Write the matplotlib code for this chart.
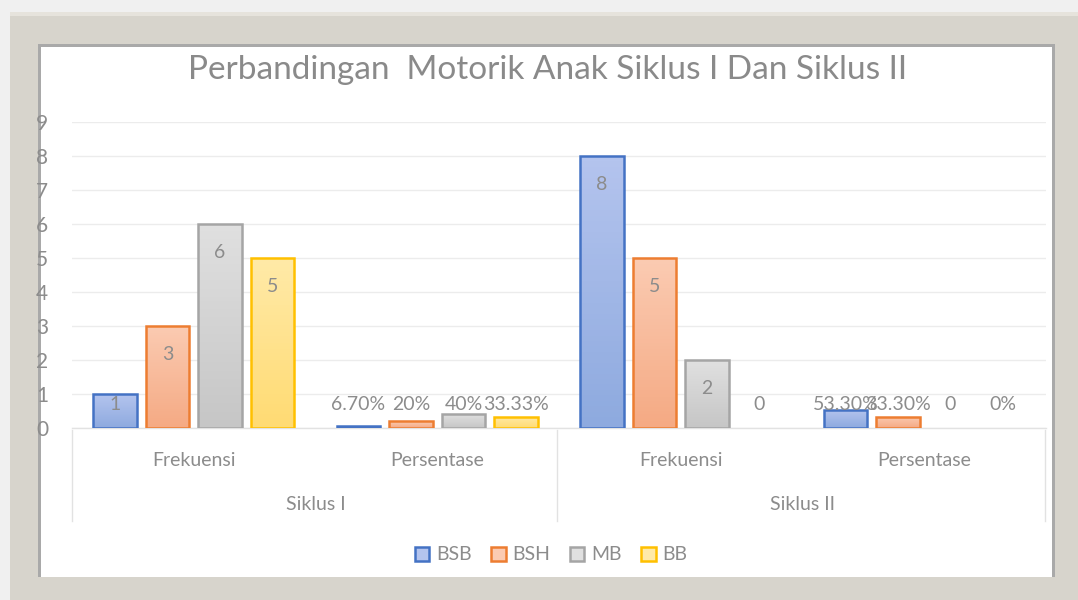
import matplotlib
matplotlib.use("Agg")
import matplotlib.pyplot as plt
import numpy as np
from matplotlib.patches import Rectangle, Patch
from matplotlib.colors import LinearSegmentedColormap

plt.rcParams['font.family'] = ['Lato', 'DejaVu Sans']

# ---- data ----
title = "Perbandingan  Motorik Anak Siklus I Dan Siklus II"
categories = ["Frekuensi", "Persentase", "Frekuensi", "Persentase"]
groups = ["Siklus I", "Siklus II"]
series = ["BSB", "BSH", "MB", "BB"]
bsb = [1, 0.067, 8, 0.533]
bsh = [3, 0.20, 5, 0.333]
mb = [6, 0.40, 2, 0]
bb = [5, 0.3333, 0, 0]
labels_bsb = ["1", "6.70%", "8", "53.30%"]
labels_bsh = ["3", "20%", "5", "33.30%"]
labels_mb = ["6", "40%", "2", "0"]
labels_bb = ["5", "33.33%", "0", "0%"]
yticks = [0, 1, 2, 3, 4, 5, 6, 7, 8, 9]

values = [bsb, bsh, mb, bb]
labels = [labels_bsb, labels_bsh, labels_mb, labels_bb]
edge_colors = ["#4472c4", "#ed7d31", "#a5a5a5", "#ffc000"]
top_colors = ["#b4c4ee", "#fbcbb2", "#e0e0e0", "#ffeaa8"]
bot_colors = ["#8eaadf", "#f5aa84", "#c6c6c6", "#ffdb73"]

W, H = 1078, 600
fig = plt.figure(figsize=(W / 100, H / 100), dpi=100)
fig.patch.set_facecolor("#f0f0f0")


def fx(px):
    return px / W


def fy(py):
    return 1 - py / H


# frame
fig.add_artist(Rectangle((fx(10), fy(600)), fx(1078) - fx(10), fy(12) - fy(600),
                         transform=fig.transFigure, facecolor="#d7d4cc", edgecolor="none", zorder=0))
fig.add_artist(Rectangle((fx(10), fy(16)), fx(1078) - fx(10), fy(12) - fy(16),
                         transform=fig.transFigure, facecolor="#e6e3dc", edgecolor="none", zorder=0))
fig.add_artist(Rectangle((fx(38), fy(577)), fx(1055) - fx(38), fy(44) - fy(577),
                         transform=fig.transFigure, facecolor="#a9a9a9", edgecolor="none", zorder=0))
fig.add_artist(Rectangle((fx(41), fy(577)), fx(1052) - fx(41), fy(47) - fy(577),
                         transform=fig.transFigure, facecolor="white", edgecolor="none", zorder=0))

ax = fig.add_axes([fx(72), fy(428), fx(1046) - fx(72), fy(122) - fy(428)])
ax.set_facecolor("none")
ax.set_xlim(-0.5, 3.5)
ax.set_ylim(0, 9)

x = np.arange(len(categories))
pitch = 0.2156
width = 0.18
offsets = (np.arange(4) - 1.5) * pitch

text_color = "#8c8c8c"

for i in range(4):
    bars = ax.bar(x + offsets[i], values[i], width=width, facecolor=bot_colors[i],
                  edgecolor="none", linewidth=0, zorder=3)
    cmap = LinearSegmentedColormap.from_list("g", [bot_colors[i], top_colors[i]])
    for b in bars:
        h = b.get_height()
        if h <= 0:
            b.set_visible(False)
            continue
        im = ax.imshow(np.linspace(0, 1, 50).reshape(-1, 1), cmap=cmap, origin="lower",
                       extent=[b.get_x(), b.get_x() + b.get_width(), 0, h],
                       aspect="auto", zorder=3.5)
        im.set_clip_path(b)
        ax.add_patch(Rectangle((b.get_x(), 0), b.get_width(), h, facecolor="none",
                               edgecolor=edge_colors[i], linewidth=1.8, zorder=4))
    for xi, v, lab in zip(x + offsets[i], values[i], labels[i]):
        ax.text(xi, max(v - 0.85, 0.7), lab, ha="center", va="center",
                fontsize=14, color=text_color, zorder=5)

ax.set_xlim(-0.5, 3.5)
ax.set_ylim(0, 9)

ax.set_yticks(yticks)
ax.yaxis.grid(True, color="#ececec", linewidth=1, zorder=0)
ax.set_axisbelow(True)
for s in ["top", "right", "left"]:
    ax.spines[s].set_visible(False)
ax.spines["bottom"].set_color("#e2e2e2")
ax.spines["bottom"].set_linewidth(1)
ax.tick_params(axis="both", length=0)
ax.set_xticks([])
ax.set_yticklabels([str(t) for t in yticks], fontsize=15, color=text_color)
ax.tick_params(axis="y", pad=17)

# category labels
for xi, c in zip(x, categories):
    fig.text(fx(72 + (xi + 0.5) * 243.5), fy(460), c, ha="center", va="center",
             fontsize=14, color=text_color)
for gi, g in enumerate(groups):
    fig.text(fx(72 + (2 * gi + 1) * 243.5), fy(505), g, ha="center", va="center",
             fontsize=14, color=text_color)
for px in [72, 557, 1045]:
    fig.add_artist(plt.Line2D([fx(px), fx(px)], [fy(430), fy(521)], transform=fig.transFigure,
                              color="#e2e2e2", linewidth=1))

fig.text(fx(548), fy(70), title, ha="center", va="center", fontsize=24, color="#8a8a8a")

handles = [Patch(facecolor=top_colors[i], edgecolor=edge_colors[i], linewidth=1.8, label=series[i])
           for i in range(4)]
leg = fig.legend(handles=handles, loc="center", bbox_to_anchor=(fx(551), fy(555)), ncol=4,
                 frameon=False, fontsize=14, handlelength=0.75, handleheight=0.75,
                 handletextpad=0.35, columnspacing=1.0, labelcolor=text_color)

fig.savefig("out.png", dpi=100, facecolor=fig.get_facecolor())
